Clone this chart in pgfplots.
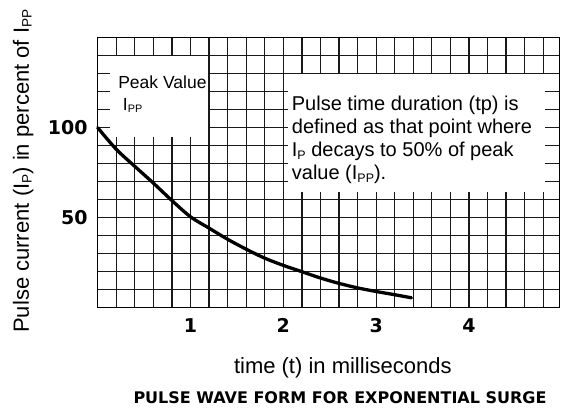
\documentclass[border=0pt]{standalone}
\usepackage{pgfplots}
\pgfplotsset{compat=1.18}
\usepackage{fontspec}
\setmainfont{Liberation Sans}
\newfontfamily\vfont{DejaVu Sans}
\newcommand\sub[1]{\raisebox{-0.12em}{\scalebox{0.62}{#1}}}
\begin{document}
\begin{tikzpicture}
\useasboundingbox (0,0) rectangle (564pt,411pt);
\begin{axis}[
  at={(97.7pt,103.3pt)}, anchor=south west, scale only axis,
  width=461.6pt, height=270pt,
  xmin=0, xmax=4.973, ymin=0, ymax=150,
  xtick={1,2,3,4}, xticklabels={1,2,3,4},
  ytick={50,100}, yticklabels={50,100},
  minor xtick={0.2,0.4,0.6,0.8,1.2,1.4,1.6,1.8,2.2,2.4,2.6,2.8,3.2,3.4,3.6,3.8,4.2,4.4,4.6,4.8},
  minor ytick={10,20,30,40,60,70,80,90,110,120,130,140},
  grid=both,
  major grid style={black!90, line width=1.25pt},
  minor grid style={black!90, line width=1.25pt},
  major tick length=0pt, minor tick length=0pt,
  axis line style={black, line width=1.3pt},
  /pgf/number format/assume math mode=true,
  tick label style={font=\vfont\bfseries\fontsize{19}{19}\selectfont},
  yticklabel style={inner sep=0pt, xshift=-10pt},
  xticklabel style={inner sep=0pt, yshift=-10.5pt},
  clip=false,
  every axis x label/.style={at={(rel axis cs:0.531,0)}, yshift=-66.3pt, anchor=base, inner sep=0pt, font=\fontsize{22}{24}\selectfont},
  every axis y label/.style={at={(rel axis cs:0,0.506)}, xshift=-68.7pt, rotate=90, anchor=base, inner sep=0pt, font=\fontsize{22}{24}\selectfont},
  xlabel={time (t) in milliseconds},
  ylabel={Pulse current (I\sub{P}) in percent of I\sub{PP}},
]
\fill[white] (axis cs:0.13,94.7) rectangle (axis cs:1.19,139.6);
\fill[white] (axis cs:2.05,64.5) rectangle (axis cs:4.82,129.6);
\addplot[black, line width=3.3pt, line cap=round, smooth] coordinates {
(0,100) (0.2,88) (0.4,78.5) (0.6,69.2) (0.8,59.5) (1.0,50.5) (1.2,44.2) (1.4,38) (1.6,32.5) (1.8,27.5) (2.0,23.5) (2.2,20) (2.4,16.5) (2.6,13.5) (2.8,11) (3.0,9) (3.2,7.2) (3.38,5.5)
};
\node[anchor=base west, inner sep=0pt, font=\fontsize{17.5}{20}\selectfont] at (axis cs:0.22,121.9) {Peak Value};
\node[anchor=base west, inner sep=0pt, font=\fontsize{17.5}{20}\selectfont] at (axis cs:0.27,109.8) {I\sub{PP}};
\node[anchor=base west, inner sep=0pt, font=\fontsize{20}{23}\selectfont] at (axis cs:2.09,109.5) {Pulse time duration (tp) is};
\node[anchor=base west, inner sep=0pt, font=\fontsize{20}{23}\selectfont] at (axis cs:2.09,96.7) {defined as that point where};
\node[anchor=base west, inner sep=0pt, font=\fontsize{20}{23}\selectfont] at (axis cs:2.09,83.9) {I\sub{P} decays to 50\% of peak};
\node[anchor=base west, inner sep=0pt, font=\fontsize{20}{23}\selectfont] at (axis cs:2.09,71.1) {value (I\sub{PP}).};
\node[anchor=base, inner sep=0pt, yshift=-96.3pt, font=\vfont\bfseries\fontsize{16}{18}\selectfont] at (rel axis cs:0.525,0) {PULSE WAVE FORM FOR EXPONENTIAL SURGE};
\end{axis}
\end{tikzpicture}
\end{document}
